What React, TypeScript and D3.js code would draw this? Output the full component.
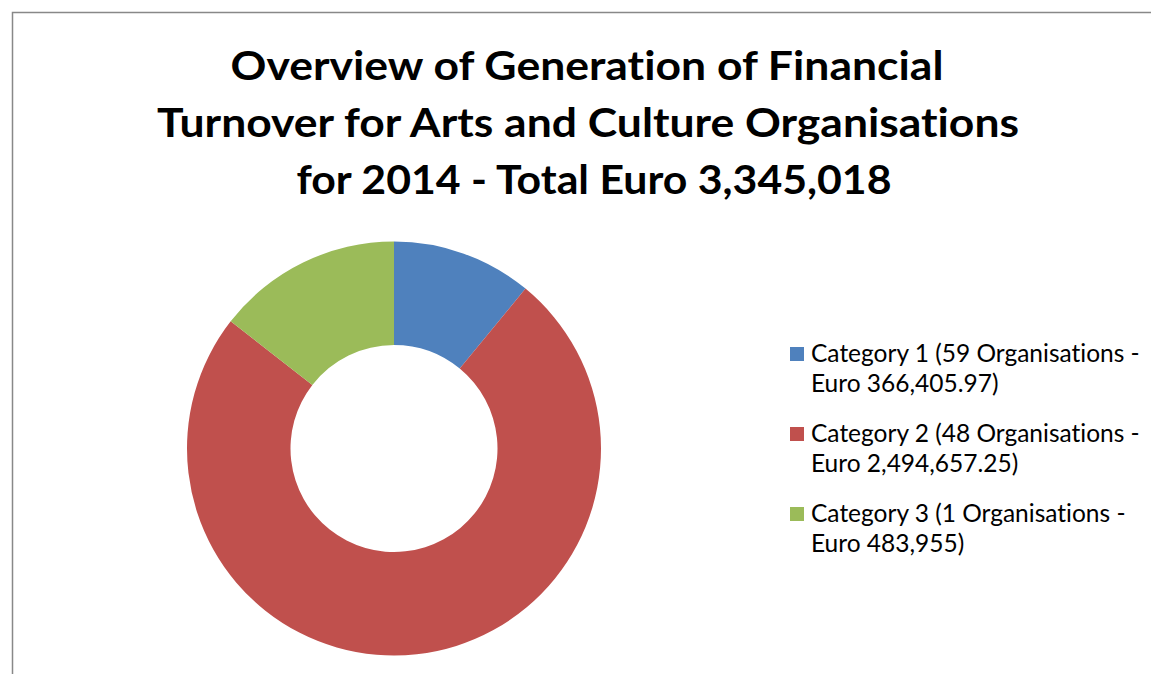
import React from 'react'
import * as d3 from 'd3'

const categories = ['Category 1', 'Category 2', 'Category 3']
const organisations = [59, 48, 1]
const turnover = [366405.97, 2494657.25, 483955]
const euroLabels = ['366,405.97', '2,494,657.25', '483,955']
const colours = ['#4F81BD', '#C0504D', '#9BBB59']
const titleLines = [
  'Overview of Generation of Financial',
  'Turnover for Arts and Culture Organisations',
  'for 2014 - Total Euro 3,345,018',
]
// measured widths / centres of the title lines in the picture
const titleWidths = [713, 862, 595]
const titleCentres = [587, 588, 594]

const width = 1151
const height = 674

const App = () => {
  const cx = 394
  const cy = 448.5
  const outer = 207
  const inner = 103.5

  const pie = d3.pie<number>().sort(null).value((d) => d)
  const arcs = pie(turnover)
  const arc = d3.arc<d3.PieArcDatum<number>>().innerRadius(inner).outerRadius(outer)

  const legendX = 790
  const legendY = 347
  const entryGap = 80
  const lineGap = 30

  return (
    <svg
      width={width}
      height={height}
      style={{ position: 'absolute', left: 0, top: 0, background: '#fff', fontVariantLigatures: 'none' }}
      fontFamily="Lato, 'Open Sans', sans-serif"
    >
      <rect x={12.5} y={12.5} width={width + 20} height={height + 20} fill="#fff" stroke="#888" strokeWidth={1.5} />

      <g fontWeight="bold" fontSize={41} textAnchor="middle" fill="#000">
        {titleLines.map((t, i) => (
          <text key={t} x={titleCentres[i]} y={80 + i * 57} textLength={titleWidths[i]} lengthAdjust="spacingAndGlyphs">{t}</text>
        ))}
      </g>

      <g transform={`translate(${cx},${cy})`}>
        {arcs.map((a, i) => (
          <path key={categories[i]} d={arc(a) || ''} fill={colours[i]} />
        ))}
      </g>

      <g fontSize={24.5} fill="#000">
        {categories.map((c, i) => {
          const y = legendY + i * entryGap
          return (
            <g key={c}>
              <rect x={legendX} y={y} width={14} height={14} fill={colours[i]} />
              <text x={811} y={y + 15}>{`${c} (${organisations[i]} Organisations -`}</text>
              <text x={811} y={y + 15 + lineGap}>{`Euro ${euroLabels[i]})`}</text>
            </g>
          )
        })}
      </g>
    </svg>
  )
}

export default App
